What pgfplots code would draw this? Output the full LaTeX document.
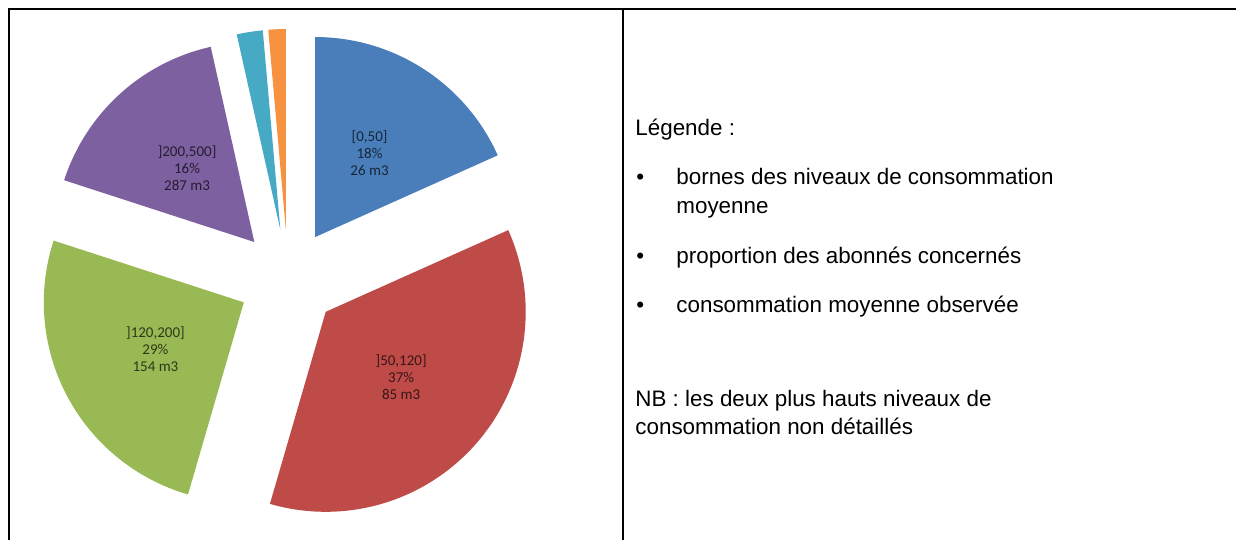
\documentclass[border=0pt]{standalone}
\usepackage{fontspec}
\setmainfont{Liberation Sans}
\newfontfamily\calib{Carlito}
\usepackage{pgfplots}
\usepackage{pgfplotstable}
\pgfplotsset{compat=1.18}

\definecolor{sblue}{HTML}{4A7EBB}
\definecolor{sred}{HTML}{BE4B48}
\definecolor{sgreen}{HTML}{98B954}
\definecolor{spurple}{HTML}{7D60A0}
\definecolor{scyan}{HTML}{46AAC5}
\definecolor{sorange}{HTML}{F69240}

% share of each consumption level (percent of the pie, clockwise from 12 o'clock)
\pgfplotstableread{
share
18.3
36.2
25.5
16.5
2.1
1.4
}\piedata

\newcommand\labA{[0,50]\\18\%\\26 m3}
\newcommand\labB{]50,120]\\37\%\\85 m3}
\newcommand\labC{]120,200]\\29\%\\154 m3}
\newcommand\labD{]200,500]\\16\%\\287 m3}

\begin{document}
\begin{tikzpicture}[x=0.5pt,y=0.5pt]
\useasboundingbox (0,0) rectangle (1236,540);
\begin{axis}[at={(0,0)}, anchor=south west, x=0.5pt, y=0.5pt,
  xmin=0, xmax=1236, ymin=0, ymax=540, hide axis, clip=false]
\def\angstart{90}
\pgfplotsforeachungrouped \ii in {0,...,5}{%
  \pgfplotstablegetelem{\ii}{share}\of\piedata
  \pgfmathsetmacro{\slicedeg}{3.6*\pgfplotsretval}
  \pgfmathsetmacro{\aend}{\angstart-\slicedeg}
  \pgfmathsetmacro{\amid}{\angstart-\slicedeg/2}
  \pgfmathsetmacro{\ex}{288+50*cos(\amid)}
  \pgfmathsetmacro{\ey}{261+50*sin(\amid)}
  \pgfmathsetmacro{\lx}{288+150*cos(\amid)}
  \pgfmathsetmacro{\ly}{261+150*sin(\amid)}
  \edef\temp{\noexpand\addplot[fill=\ifcase\ii sblue\or sred\or sgreen\or spurple\or scyan\else sorange\fi,
     draw=none, domain=\aend:\angstart, samples=90]
     ({\ex+200*cos(x)},{\ey+200*sin(x)}) -- (axis cs:\ex,\ey) -- cycle;}%
  \temp
  \ifnum\ii<4
    \edef\temp{\noexpand\node[align=center, inner sep=0pt,
      font=\noexpand\calib\noexpand\fontsize{7.5}{8.5}\noexpand\selectfont,
      text=\ifcase\ii sblue!30!black\or sred!30!black\or sgreen!30!black\else spurple!30!black\fi]
      at (axis cs:\lx,\ly) {\ifcase\ii\noexpand\labA\or\noexpand\labB\or\noexpand\labC\else\noexpand\labD\fi};}%
    \temp
  \fi
  \global\let\angstart\aend
}
\end{axis}

% table frame
\draw[line width=1pt] (8,531) -- (1236,531);
\draw[line width=1pt] (9,531) -- (9,0);
\draw[line width=1pt] (622.5,531) -- (622.5,0);

% right cell text
\begin{scope}[every node/.style={anchor=base west, inner sep=0pt, font=\fontsize{11.2}{13}\selectfont}]
\node at (635,404) {Légende :};
\node at (636,355) {•}; \node at (676,355) {bornes des niveaux de consommation};
\node at (676,326) {moyenne};
\node at (636,276) {•}; \node at (676,276) {proportion des abonnés concernés};
\node at (636,227) {•}; \node at (676,227) {consommation moyenne observée};
\node at (635,133) {NB : les deux plus hauts niveaux de};
\node at (635,105) {consommation non détaillés};
\end{scope}
\end{tikzpicture}
\end{document}
